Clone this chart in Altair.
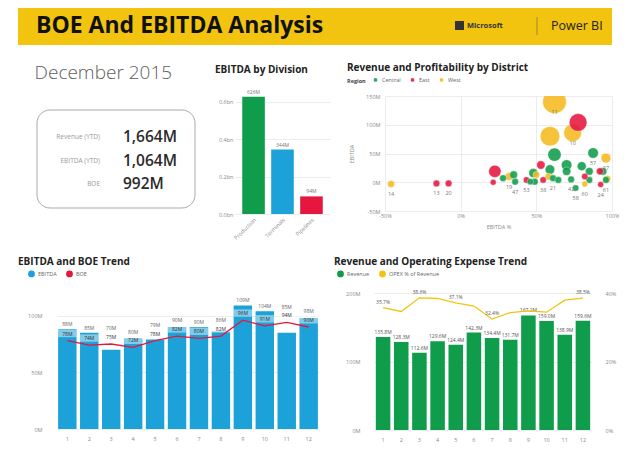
import altair as alt
import pandas as pd

YELLOW = "#F2C40F"
GREEN = "#109D4B"
BLUE = "#1CA1D8"
RED = "#E5173F"
GOLD = "#F4BA1E"
FONT = "Open Sans"

dashboard_title = ["BOE And EBITDA Analysis"]
brand_left = ["Microsoft"]
brand_right = ["Power BI"]
period_label = "December 2015"

kpi_labels = ["Revenue (YTD)", "EBITDA (YTD)", "BOE"]
kpi_values = ["1,664M", "1,064M", "992M"]

divisions = ["Production", "Terminals", "Pipelines"]
division_ebitda = [626, 344, 94]

regions = ["Central", "East", "West"]
west_district = ["14", "11", "", "10", "27", "19", "", "", "60", ""]
west_pct = [-46, 62, 59, 74, 96, 32, 50, 58, 82, 97]
west_ebitda = [-3, 140, 80, 86, 42, 10, 13, 10, -3, 6]
west_revenue = [10, 110, 75, 62, 19, 12, 9, 9, 7, 9]

east_district = ["13", "20", "", "", "", "", "38", "", "", "24", "53"]
east_pct = [-16, -8, 22.6, 21.5, 53, 77.6, 54.5, 82, 92, 92.5, 43.5]
east_ebitda = [-2, -2, 19, 0, 30, 104, 4, 10, 19, -4, 4]
east_revenue = [9, 9, 30, 7, 14, 62, 8, 8, 10, 7, 8]

central_district = ["", "57", "", "", "", "", "", "", "47", "", "", "", "21", "42", "58", "", "61", "", "", ""]
central_pct = [62, 87.5, 70, 70, 80, 85, 94, 35, 36, 48, 49, 59, 61, 73, 76, 85, 96, 46, 64.5, 28]
central_ebitda = [48, 51, 30, 19, 28, 19, 19, 13, 1, 16, 1, 22, 7, 5, -10, 4, 4, 1, 4, 7]
central_revenue = [35, 22, 22, 14, 16, 12, 12, 12, 9, 16, 9, 18, 9, 9, 8, 9, 9, 8, 9, 9]

months = list(range(1, 13))
ebitda_month = [88, 85, 70, 80, 79, 90, 90, 86, 109, 104, 85, 98]
boe_month = [78, 74, 75, 72, 78, 82, 80, 82, 96, 91, 94, 90]

revenue_month = [135.8, 128.3, 112.6, 129.6, 124.4, 142.3, 134.4, 131.7, 167.2, 159.0, 138.9, 159.6]
opex_pct_month = [35.7, 34.6, 38.6, 38.4, 37.1, 36.2, 32.4, 34.3, 34.8, 34.4, 37.9, 38.5]
opex_labeled_months = [1, 3, 5, 7, 12]

# ---------------- header ----------------
HH = 37
hdf = pd.DataFrame({"title": dashboard_title, "left": brand_left, "right": brand_right})
h_bg = alt.Chart(hdf).mark_rect(color=YELLOW).encode(
    x=alt.value(-39), x2=alt.value(555), y=alt.value(0), y2=alt.value(HH))
h_title = alt.Chart(hdf).mark_text(align="left", baseline="middle", fontSize=23, fontWeight="bold",
                                   color="#111", font=FONT).encode(
    x=alt.value(-21), y=alt.value(18), text="title:N")
h_logo = alt.Chart(hdf).mark_rect(color="#333").encode(
    x=alt.value(398), x2=alt.value(407), y=alt.value(13), y2=alt.value(22))
h_ms = alt.Chart(hdf).mark_text(align="left", baseline="middle", fontSize=7.5, fontWeight="bold",
                                color="#333", font=FONT).encode(
    x=alt.value(410), y=alt.value(17.5), text="left:N")
h_div = alt.Chart(hdf).mark_rule(color="#8a7a30", strokeWidth=0.8).encode(
    x=alt.value(480), y=alt.value(9), y2=alt.value(27))
h_pbi = alt.Chart(hdf).mark_text(align="left", baseline="middle", fontSize=12.5,
                                 color="#222", font=FONT).encode(
    x=alt.value(494), y=alt.value(18), text="right:N")
header = alt.layer(h_bg, h_title, h_logo, h_ms, h_div, h_pbi).properties(width=555, height=HH)

# ---------------- KPI card ----------------
kdf = pd.DataFrame({"label": kpi_labels, "value": kpi_values})
k_box = alt.Chart(pd.DataFrame({"a": [0]})).mark_rect(
    cornerRadius=13, fill="white", stroke="#a0a0a0", strokeWidth=0.9).encode(
    x=alt.value(-20), x2=alt.value(138), y=alt.value(14), y2=alt.value(112))
k_y = alt.Y("label:N", sort=kpi_labels, axis=None, scale=alt.Scale(range=[41, 88], padding=0))
k_lab = alt.Chart(kdf).mark_text(align="right", baseline="middle", fontSize=6.5, color="#9a9a9a").encode(
    x=alt.value(43), y=k_y, text="label:N")
k_val = alt.Chart(kdf).mark_text(align="left", baseline="middle", fontSize=15.5, fontWeight=600,
                                 color="#2a2a2a").encode(
    x=alt.value(66), y=k_y, text="value:N")
kpi = alt.layer(k_box, k_lab, k_val).properties(
    width=141, height=118,
    title=alt.TitleParams(period_label, fontSize=19, fontWeight=300, color="#606060", dx=-2, offset=13))

# ---------------- EBITDA by Division ----------------
ddf = pd.DataFrame({"division": divisions, "ebitda": division_ebitda})
d_base = alt.Chart(ddf).encode(
    x=alt.X("division:N", sort=divisions,
            scale=alt.Scale(paddingInner=0.22, paddingOuter=0.25),
            axis=alt.Axis(title=None, labelAngle=-45, labelFontSize=5.5, labelPadding=3)),
    y=alt.Y("ebitda:Q", scale=alt.Scale(domain=[0, 630], nice=False),
            axis=alt.Axis(values=[0, 200, 400, 600], title=None, minExtent=20, labelFontSize=5.5,
                          labelExpr="format(datum.value/1000, '.1f') + 'bn'")))
d_bars = d_base.mark_bar().encode(
    color=alt.Color("division:N", scale=alt.Scale(domain=divisions, range=[GREEN, BLUE, RED]), legend=None))
d_text = d_base.transform_calculate(lbl="format(datum.ebitda, '.0f') + 'M'").mark_text(
    dy=-5, fontSize=5, color="#777").encode(text="lbl:N")
division = alt.layer(d_bars, d_text).properties(
    width=95, height=118, title=alt.TitleParams("EBITDA by Division", offset=15))

# ---------------- scatter ----------------
rows = []
for reg, dist, pct, eb, rev in [
    ("West", west_district, west_pct, west_ebitda, west_revenue),
    ("East", east_district, east_pct, east_ebitda, east_revenue),
    ("Central", central_district, central_pct, central_ebitda, central_revenue),
]:
    for d, p, e, r in zip(dist, pct, eb, rev):
        rows.append({"region": reg, "district": d, "pct": p, "ebitda": e, "revenue": r})
sdf = pd.DataFrame(rows)
s_x = alt.X("pct:Q", scale=alt.Scale(domain=[-50, 100], nice=False),
            axis=alt.Axis(values=[-50, 0, 50, 100], labelExpr="datum.value + '%'", title="EBITDA %",
                          labelFontSize=5.5, titleFontSize=5.5, titlePadding=6))
s_y = alt.Y("ebitda:Q", scale=alt.Scale(domain=[-50, 150], nice=False),
            axis=alt.Axis(values=[-50, 0, 50, 100, 150], labelExpr="datum.value + 'M'", title="EBITDA",
                          labelFontSize=5.5, titleFontSize=5.5, labelPadding=5, titlePadding=11))
s_pts = alt.Chart(sdf).mark_circle(opacity=0.88, stroke="white", strokeWidth=0.4, clip=True).encode(
    x=s_x, y=s_y,
    size=alt.Size("revenue:Q", scale=alt.Scale(range=[0, 560], domain=[0, 110]), legend=None),
    color=alt.Color("region:N", scale=alt.Scale(domain=regions, range=[GREEN, RED, GOLD]),
                    legend=alt.Legend(orient="none", legendX=-38, legendY=-20, title="Region",
                                      titleOrient="left", direction="horizontal",
                                      titlePadding=6, columnPadding=5, symbolSize=28, labelOffset=3,
                                      labelFontSize=5.5, titleFontSize=5.5)),
    order=alt.Order("revenue:Q", sort="descending"))
s_txt = alt.Chart(sdf).transform_filter("datum.district != ''").mark_text(
    dy=10, fontSize=5.5, color="#777").encode(x=s_x, y=s_y, text="district:N")
scatter = alt.layer(s_pts, s_txt).properties(
    width=227, height=115, title=alt.TitleParams("Revenue and Profitability by District", offset=3))

# ---------------- EBITDA and BOE trend ----------------
tdf = pd.DataFrame({"month": months, "ebitda": ebitda_month, "boe": boe_month})
t_x = alt.X("month:O", scale=alt.Scale(paddingInner=0.16, paddingOuter=0.05),
            axis=alt.Axis(title=None, labelAngle=0, labelPadding=7, labelFontSize=5.5))
t_ysc = alt.Scale(domain=[0, 120], nice=False)
t_col = alt.Color("series:N", scale=alt.Scale(domain=["EBITDA", "BOE"], range=[BLUE, RED]),
                  legend=alt.Legend(orient="none", legendX=-29, legendY=-23, title=None, direction="horizontal",
                                    symbolSize=28, labelFontSize=5.5, columnPadding=6, labelOffset=3))
t_base = alt.Chart(tdf).encode(x=t_x)
t_bars = t_base.transform_calculate(series="'EBITDA'").mark_bar().encode(
    y=alt.Y("ebitda:Q", scale=t_ysc,
            axis=alt.Axis(values=[0, 50, 100], labelExpr="datum.value + 'M'", title=None,
                          minExtent=39, labelPadding=15, labelFontSize=5.5)),
    color=t_col)
t_box = t_base.transform_calculate(b0="datum.boe + 3", b1="datum.boe + 9.5").mark_bar(
    color="white", opacity=0.45).encode(y=alt.Y("b0:Q", scale=t_ysc), y2="b1:Q")
t_line = t_base.transform_calculate(series="'BOE'").mark_line(strokeWidth=1.3).encode(
    y=alt.Y("boe:Q", scale=t_ysc), color=t_col)
t_btxt = t_base.transform_calculate(bm="datum.boe + 6.2", lbl="format(datum.boe, '.0f') + 'M'").mark_text(
    fontSize=5, color="#333", baseline="middle").encode(y=alt.Y("bm:Q", scale=t_ysc), text="lbl:N")
t_etxt = t_base.transform_calculate(
    ey="max(datum.ebitda, datum.boe + 9.5)", lbl="format(datum.ebitda, '.0f') + 'M'").mark_text(
    fontSize=5, color="#666", dy=-5).encode(y=alt.Y("ey:Q", scale=t_ysc), text="lbl:N")
trend1 = alt.layer(t_bars, t_box, t_line, t_btxt, t_etxt).properties(
    width=262, height=136, title=alt.TitleParams("EBITDA and BOE Trend", offset=3))

# ---------------- Revenue and Operating Expense trend ----------------
rdf = pd.DataFrame({"month": months, "revenue": revenue_month, "opex": opex_pct_month})
r_x = alt.X("month:O", scale=alt.Scale(paddingInner=0.2, paddingOuter=0.1),
            axis=alt.Axis(title=None, labelAngle=0, labelPadding=7, labelFontSize=5.5))
r_col = alt.Color("series:N", scale=alt.Scale(domain=["Revenue", "OPEX % of Revenue"], range=[GREEN, YELLOW]),
                  legend=alt.Legend(orient="none", legendX=-37, legendY=-23, title=None, direction="horizontal",
                                    symbolSize=28, labelFontSize=5.5, columnPadding=6, labelOffset=3))
r_ysc = alt.Scale(domain=[0, 200], nice=False)
p_ysc = alt.Scale(domain=[0, 40], nice=False)
r_base = alt.Chart(rdf).encode(x=r_x)
r_bars = r_base.transform_calculate(series="'Revenue'").mark_bar().encode(
    y=alt.Y("revenue:Q", scale=r_ysc,
            axis=alt.Axis(values=[0, 50, 100, 150, 200], labelExpr="datum.value + 'M'", title=None,
                          orient="left", minExtent=40, labelPadding=14, labelFontSize=5.5)),
    color=r_col)
r_txt = r_base.transform_calculate(lbl="format(datum.revenue, '.1f') + 'M'").mark_text(
    fontSize=5, color="#555", dy=-5).encode(y=alt.Y("revenue:Q", scale=r_ysc), text="lbl:N")
p_line = r_base.transform_calculate(series="'OPEX % of Revenue'").mark_line(strokeWidth=1.3).encode(
    y=alt.Y("opex:Q", scale=p_ysc,
            axis=alt.Axis(values=[0, 10, 20, 30, 40], labelExpr="datum.value + '%'", title=None,
                          orient="right", grid=False, labelPadding=13, labelFontSize=5.5)),
    color=r_col)
p_txt = r_base.transform_filter(alt.FieldOneOfPredicate(field="month", oneOf=opex_labeled_months)) \
    .transform_calculate(lbl="format(datum.opex, '.1f') + '%'").mark_text(
    fontSize=5, color="#555", dy=-6).encode(y=alt.Y("opex:Q", scale=p_ysc), text="lbl:N")
trend2 = alt.layer(alt.layer(r_bars, r_txt), alt.layer(p_line, p_txt)).resolve_scale(y="independent").properties(
    width=218, height=137, title=alt.TitleParams("Revenue and Operating Expense Trend", offset=3))

row1 = alt.hconcat(kpi, division, scatter, spacing=17).resolve_scale(color="independent", size="independent").resolve_legend(color="independent")
row2 = alt.hconcat(trend1, trend2, spacing=15).resolve_scale(color="independent").resolve_legend(color="independent")
body = alt.vconcat(row1, row2, spacing=16).resolve_scale(color="independent").resolve_legend(color="independent")

chart = alt.vconcat(header, body, spacing=18).resolve_scale(color="independent").resolve_legend(
    color="independent").properties(
    padding={"left": 10, "top": 0, "right": 0, "bottom": 0}
).configure(font=FONT).configure_view(stroke=None).configure_axis(
    labelFont=FONT, labelColor="#8a8a8a", titleColor="#8a8a8a", titleFontWeight="normal",
    gridColor="#ececec", domain=False, ticks=False, labelFlush=False
).configure_title(
    font=FONT, fontSize=10, fontWeight="bold", color="#222", anchor="start"
).configure_legend(
    labelColor="#666", titleColor="#444", symbolType="circle", labelFont=FONT, titleFont=FONT
)

chart.save("out.html", embed_options={"renderer": "svg", "actions": False})
